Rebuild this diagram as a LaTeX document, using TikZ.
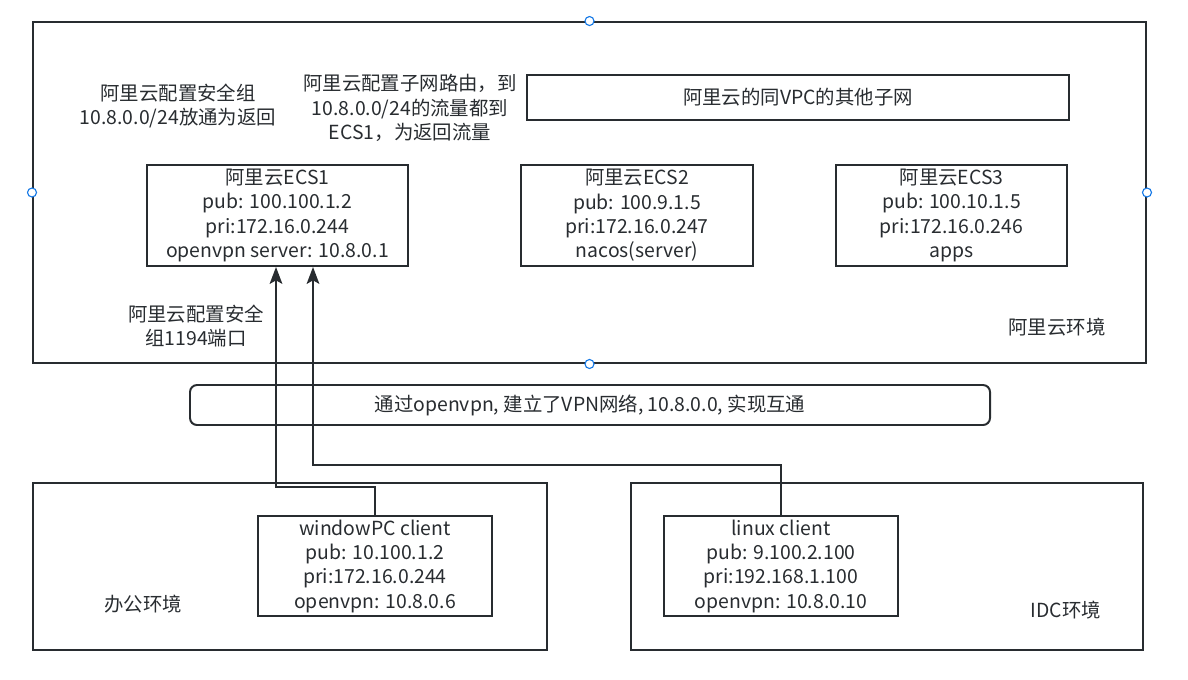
\documentclass[tikz,border=0pt]{standalone}
\usepackage{fontspec}
\setmainfont{Noto Sans CJK SC}
\usepackage{xcolor}
\usetikzlibrary{calc,positioning,arrows.meta}
\definecolor{edge}{RGB}{40,44,48}
\definecolor{handle}{RGB}{20,120,230}
\newcommand{\pxu}{0.025cm}

\begin{document}
\begin{tikzpicture}[x=0.025cm, y=-0.025cm,
    every node/.style={font=\fontsize{13.8}{17.3}\selectfont, text=edge},
    box/.style={draw=edge, line width=1.4pt, align=center, inner sep=0pt},
    note/.style={align=center, inner sep=0pt},
    link/.style={draw=edge, line width=1.4pt, -{Stealth[length=12pt, width=9pt, inset=2.5pt]}}]
    \useasboundingbox (0,0) rectangle (1188,679);

    % environments
    \node[box, minimum width=1113*\pxu, minimum height=341*\pxu] (aliyun) at (589.5,192.5) {};
    \node[box, minimum width=514*\pxu, minimum height=167*\pxu] (office) at (290,566.5) {};
    \node[box, minimum width=512*\pxu, minimum height=167*\pxu] (idc) at (887,566.5) {};

    % servers
    \node[box, minimum width=261*\pxu, minimum height=101*\pxu] (ecs1) at (277.5,215.5)
        {阿里云ECS1\\pub: 100.100.1.2\\pri:172.16.0.244\\openvpn server: 10.8.0.1};
    \node[box, minimum width=232*\pxu, minimum height=101*\pxu] (ecs2) at (637,215.5)
        {阿里云ECS2\\pub: 100.9.1.5\\pri:172.16.0.247\\nacos(server)};
    \node[box, minimum width=231*\pxu, minimum height=101*\pxu] (ecs3) at (951.5,215.5)
        {阿里云ECS3\\pub: 100.10.1.5\\pri:172.16.0.246\\apps};
    \node[box, minimum width=542*\pxu, minimum height=45*\pxu] (subnet) at (798,97.5)
        {阿里云的同VPC的其他子网};
    \node[box, rounded corners=5pt, minimum width=800*\pxu, minimum height=40*\pxu] (vpn) at (590,405)
        {通过openvpn, 建立了VPN网络, 10.8.0.0, 实现互通};

    % clients
    \node[box, minimum width=234*\pxu, minimum height=100*\pxu] (winpc) at (375,566)
        {windowPC client\\pub: 10.100.1.2\\pri:172.16.0.244\\openvpn: 10.8.0.6};
    \node[box, minimum width=234*\pxu, minimum height=100*\pxu] (linux) at (781,566)
        {linux client\\pub: 9.100.2.100\\pri:192.168.1.100\\openvpn: 10.8.0.10};

    % notes
    \node[note] (sgret) at (178,106) {阿里云配置安全组\\10.8.0.0/24放通为返回};
    \node[note] (route) at (410,108) {阿里云配置子网路由，到\\10.8.0.0/24的流量都到\\ECS1，为返回流量};
    \node[note] (sgport) at (196,326) {阿里云配置安全\\组1194端口};
    \node[note] (aliyunlbl) at (1057,327) {阿里云环境};
    \node[note] (officelbl) at (143,604) {办公环境};
    \node[note] (idclbl) at (1066,610) {IDC环境};

    % tunnels
    \coordinate (bendA) at (276,487);
    \coordinate (bendB) at (313,465);
    \draw[link] (winpc.north) |- (bendA) -- (bendA |- ecs1.south);
    \draw[link] (linux.north) |- (bendB) -- (bendB |- ecs1.south);

    \foreach \a in {north,south,west,east}{
        \draw[handle, fill=white, line width=0.8pt] (aliyun.\a) circle (4.5);
    }
\end{tikzpicture}
\end{document}
